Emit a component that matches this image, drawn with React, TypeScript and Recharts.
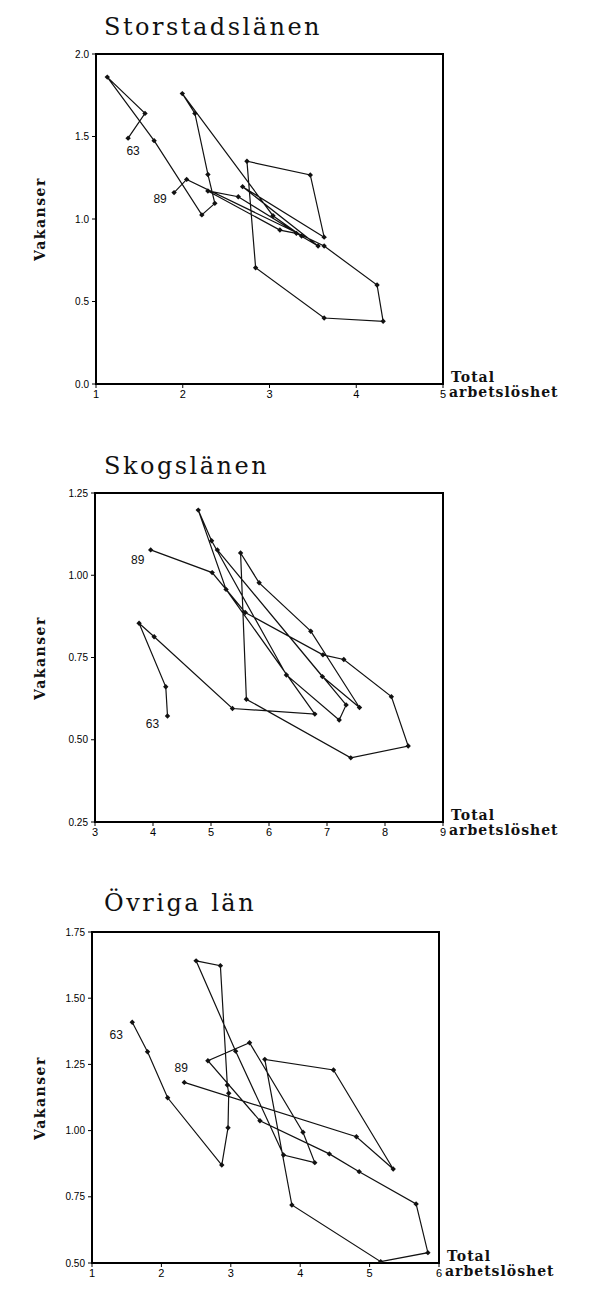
import React from "react";
import { ScatterChart, Scatter, XAxis, YAxis, ReferenceArea } from "recharts";

const YEARS = [
  63, 64, 65, 66, 67, 68, 69, 70, 71, 72, 73, 74, 75, 76, 77, 78, 79, 80, 81,
  82, 83, 84, 85, 86, 87, 88, 89,
];

// Storstadslänen
const storstadU = [
  1.37, 1.565, 1.13, 1.67, 2.22, 2.37, 2.29, 2.14, 1.995, 3.04, 3.37, 2.64,
  2.29, 3.12, 3.31, 3.56, 2.69, 3.63, 3.47, 2.74, 2.84, 3.63, 4.31, 4.24, 3.63,
  2.045, 1.9,
];
const storstadV = [
  1.49, 1.64, 1.86, 1.475, 1.025, 1.095, 1.27, 1.64, 1.76, 1.02, 0.897, 1.135,
  1.17, 0.933, 0.913, 0.836, 1.196, 0.89, 1.267, 1.35, 0.705, 0.4, 0.38, 0.6,
  0.836, 1.24, 1.16,
];

// Skogslänen
const skogU = [
  4.25, 4.22, 3.76, 4.02, 5.37, 6.79, 5.26, 4.78, 5.01, 6.3, 7.21, 7.33, 5.11,
  6.92, 7.56, 6.72, 5.83, 5.51, 5.61, 7.41, 8.4, 8.11, 7.29, 6.93, 5.59, 5.02,
  3.96,
];
const skogV = [
  0.572, 0.661, 0.854, 0.813, 0.595, 0.578, 0.957, 1.198, 1.105, 0.697, 0.56,
  0.606, 1.077, 0.692, 0.598, 0.83, 0.977, 1.068, 0.623, 0.445, 0.481, 0.631,
  0.744, 0.758, 0.887, 1.008, 1.077,
];

// Övriga län
const ovrigaU = [
  1.58, 1.8, 2.09, 2.87, 2.96, 2.97, 2.95, 2.85, 2.5, 3.07, 3.76, 4.21, 4.04,
  3.27, 2.67, 3.42, 4.42, 4.85, 5.67, 5.84, 5.16, 3.88, 3.49, 4.48, 5.34, 4.81,
  2.33,
];
const ovrigaV = [
  1.409, 1.298, 1.124, 0.87, 1.011, 1.141, 1.172, 1.623, 1.641, 1.3, 0.908,
  0.879, 0.994, 1.332, 1.264, 1.037, 0.912, 0.845, 0.723, 0.539, 0.505, 0.719,
  1.269, 1.229, 0.855, 0.977, 1.182,
];

const SERIF = '"DejaVu Serif", "Liberation Serif", serif';
const SANS = '"Liberation Sans", Arial, sans-serif';

const W = 601;
const TOP_PAD = 54;
const BOTTOM_PAD = 60;
const XAXIS_H = 24;
const YAXIS_W = 40;

// year labels: which point and where the text sits relative to it
type YearLabel = { year: number; dx: number; dy: number };

const Marker = (props: any) => {
  const { cx, cy } = props;
  if (cx == null || cy == null) return null;
  const r = 2.7;
  return (
    <path
      d={`M${cx},${cy - r}L${cx + r},${cy}L${cx},${cy + r}L${cx - r},${cy}Z`}
      fill="#111"
    />
  );
};

const YearText = (props: any) => {
  const { cx, cy, payload } = props;
  if (cx == null || cy == null) return null;
  return (
    <text
      x={cx + payload.dx}
      y={cy + payload.dy}
      textAnchor="middle"
      dominantBaseline="central"
      fontSize={12}
      fontFamily={SANS}
      fill="#111"
    >
      {payload.year}
    </text>
  );
};

interface PanelProps {
  title: string;
  titleTop: number;
  left: number;
  right: number;
  top: number;
  bottom: number;
  xDomain: [number, number];
  xTicks: number[];
  yDomain: [number, number];
  yTicks: number[];
  yDigits: number;
  u: number[];
  v: number[];
  labels: YearLabel[];
}

const Panel: React.FC<PanelProps> = ({
  title,
  titleTop,
  left,
  right,
  top,
  bottom,
  xDomain,
  xTicks,
  yDomain,
  yTicks,
  yDigits,
  u,
  v,
  labels,
}) => {
  const data = u.map((x, i) => ({ x, y: v[i], year: YEARS[i] }));
  const labelData = labels.map((l) => {
    const i = YEARS.indexOf(l.year);
    return { x: u[i], y: v[i], year: l.year, dx: l.dx, dy: l.dy };
  });
  const chartTop = top - TOP_PAD;
  const height = bottom - top + TOP_PAD + BOTTOM_PAD;

  return (
    <>
      <div style={{ position: "absolute", left: 0, top: chartTop }}>
        <ScatterChart
          width={W}
          height={height}
          margin={{
            top: TOP_PAD,
            left: left - YAXIS_W,
            right: W - right,
            bottom: BOTTOM_PAD - XAXIS_H,
          }}
        >
          <XAxis
            type="number"
            dataKey="x"
            domain={xDomain}
            ticks={xTicks}
            interval={0}
            height={XAXIS_H}
            axisLine={false}
            tickSize={4}
            tickMargin={2}
            tickLine={{ stroke: "#000" }}
            tick={{ fontSize: 11, fill: "#000", fontFamily: SANS }}
            allowDataOverflow
          />
          <YAxis
            type="number"
            dataKey="y"
            domain={yDomain}
            ticks={yTicks}
            interval={0}
            width={YAXIS_W}
            axisLine={false}
            tickSize={4}
            tickMargin={3}
            tickLine={{ stroke: "#000" }}
            tick={{ fontSize: 10, fill: "#000", fontFamily: SANS }}
            tickFormatter={(t: number) => t.toFixed(yDigits)}
            allowDataOverflow
          />
          <Scatter
            data={data}
            line={{ stroke: "#111", strokeWidth: 1.2 }}
            lineType="joint"
            shape={Marker}
            isAnimationActive={false}
          />
          <Scatter
            data={labelData}
            shape={YearText}
            isAnimationActive={false}
          />
          <ReferenceArea
            x1={xDomain[0]}
            x2={xDomain[1]}
            y1={yDomain[0]}
            y2={yDomain[1]}
            fill="none"
            fillOpacity={0}
            stroke="#000"
            strokeWidth={2}
            ifOverflow="visible"
          />
        </ScatterChart>
      </div>

      {/* Title */}
      <div
        style={{
          position: "absolute",
          left: 104,
          top: titleTop,
          fontFamily: SERIF,
          fontSize: 24,
          letterSpacing: 2.5,
          lineHeight: "28px",
          whiteSpace: "nowrap",
          color: "#111",
        }}
      >
        {title}
      </div>

      {/* Y label */}
      <div
        style={{
          position: "absolute",
          left: 40 - 60,
          top: (top + bottom) / 2 - 10,
          width: 120,
          height: 20,
          lineHeight: "20px",
          textAlign: "center",
          transform: "rotate(-90deg)",
          fontFamily: SERIF,
          fontWeight: "bold",
          fontSize: 14,
          letterSpacing: 1.5,
          color: "#111",
        }}
      >
        Vakanser
      </div>

      {/* X label */}
      <div
        style={{
          position: "absolute",
          left: right + 8,
          top: bottom - 14,
          fontFamily: SERIF,
          fontWeight: "bold",
          fontSize: 14,
          letterSpacing: 1,
          lineHeight: "15px",
          color: "#111",
          whiteSpace: "nowrap",
        }}
      >
        <div>Total</div>
        <div style={{ marginLeft: -2 }}>arbetslöshet</div>
      </div>
    </>
  );
};

export default function App() {
  return (
    <div
      style={{
        position: "absolute",
        left: 0,
        top: 0,
        width: W,
        height: 1295,
        background: "#fff",
        overflow: "hidden",
      }}
    >
      <Panel
        title="Storstadslänen"
        titleTop={13}
        left={96}
        right={443}
        top={54}
        bottom={384}
        xDomain={[1, 5]}
        xTicks={[1, 2, 3, 4, 5]}
        yDomain={[0, 2]}
        yTicks={[0, 0.5, 1, 1.5, 2]}
        yDigits={1}
        u={storstadU}
        v={storstadV}
        labels={[
          { year: 63, dx: 5, dy: 13 },
          { year: 89, dx: -14, dy: 6 },
        ]}
      />
      <Panel
        title="Skogslänen"
        titleTop={452}
        left={95}
        right={443}
        top={493}
        bottom={822}
        xDomain={[3, 9]}
        xTicks={[3, 4, 5, 6, 7, 8, 9]}
        yDomain={[0.25, 1.25]}
        yTicks={[0.25, 0.5, 0.75, 1, 1.25]}
        yDigits={2}
        u={skogU}
        v={skogV}
        labels={[
          { year: 63, dx: -15, dy: 8 },
          { year: 89, dx: -13, dy: 10 },
        ]}
      />
      <Panel
        title="Övriga län"
        titleTop={889}
        left={92}
        right={439}
        top={932}
        bottom={1263}
        xDomain={[1, 6]}
        xTicks={[1, 2, 3, 4, 5, 6]}
        yDomain={[0.5, 1.75]}
        yTicks={[0.5, 0.75, 1, 1.25, 1.5, 1.75]}
        yDigits={2}
        u={ovrigaU}
        v={ovrigaV}
        labels={[
          { year: 63, dx: -16, dy: 13 },
          { year: 89, dx: -3, dy: -14 },
        ]}
      />
    </div>
  );
}
